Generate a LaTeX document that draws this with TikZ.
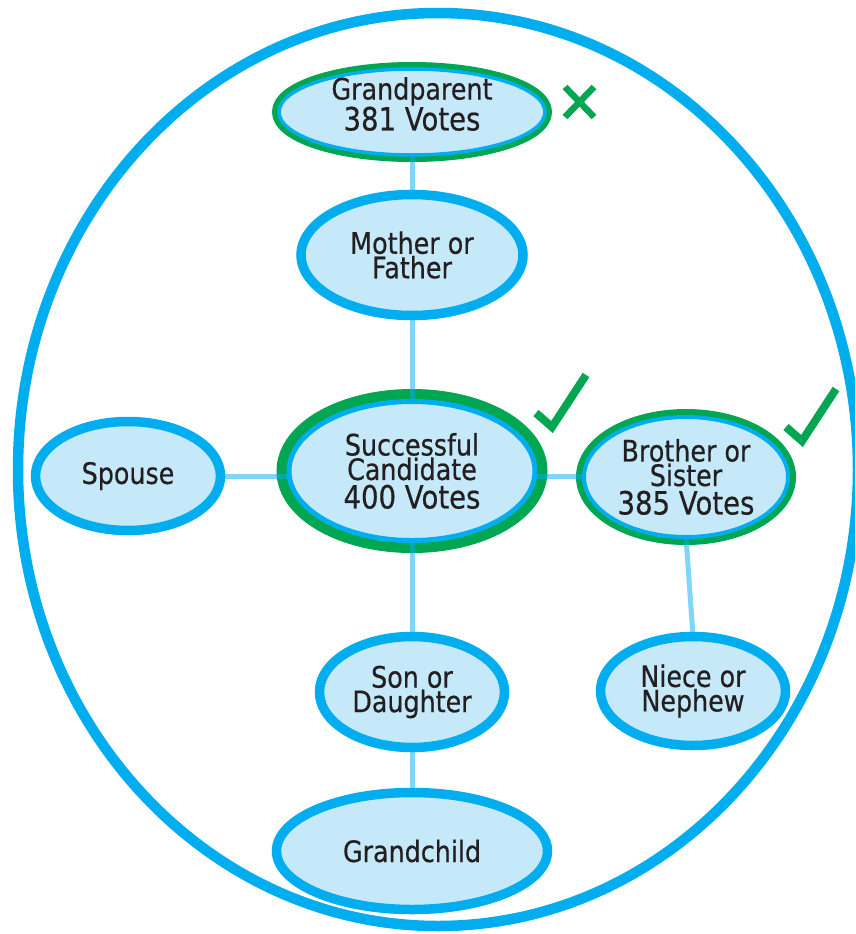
\documentclass[tikz,border=0pt]{standalone}
\usepackage{fontspec}
\setmainfont{DejaVu Sans}[FakeStretch=0.86, FakeBold=0.5]
\usetikzlibrary{shapes.geometric}
\definecolor{cblue}{HTML}{00AEEF}
\definecolor{lfill}{HTML}{C6E9F9}
\definecolor{cgreen}{HTML}{00A651}
\definecolor{tcol}{HTML}{231F20}
\newcommand{\votesline}[1]{{\fontsize{32}{30}\selectfont #1}}
\tikzset{
  rel/.style={ellipse, draw=cblue, line width=9.5pt, fill=lfill, inner sep=0pt, outer sep=0pt,
    align=center, text=tcol, font=\fontsize{29.5}{24.5}\selectfont},
  won/.style={rel, line width=#1},
  greenring/.style={preaction={draw=cgreen, line width=#1}},
  txt/.style={inner sep=0pt, align=center, text=tcol, font=\fontsize{29.5}{24.5}\selectfont},
  conn/.style={draw=cblue, draw opacity=0.5, line width=5pt},
  tick/.style={draw=cgreen, line width=8pt, line join=miter, line cap=butt},
  cross/.style={draw=cgreen, line width=6.5pt, line cap=butt}
}
\begin{document}
\begin{tikzpicture}[x=1pt, y=-1pt]
\useasboundingbox (0,0) rectangle (855,934);
\clip (0,0) rectangle (855,934);
\fill[white] (0,0) rectangle (855,934);
% outer boundary
\draw[cblue, line width=10.5pt] (438,469.5) ellipse [x radius=420, y radius=456.5];
% nodes
\node[won=3.5pt, greenring=14pt, minimum width=266pt, minimum height=86pt] (gp) at (412,112) {};
\node[txt] (gpt) at (412,104) {Grandparent\\[0pt]\votesline{381 Votes}};
\node[rel, minimum width=222pt, minimum height=121pt] (mf) at (412,255) {Mother or\\Father};
\node[won=5pt, greenring=25pt, minimum width=246pt, minimum height=139pt] (sc) at (412,471)
  {Successful\\Candidate\\[4pt]\votesline{400 Votes}};
\node[rel, minimum width=185pt, minimum height=109pt] (sp) at (128,476) {Spouse};
\node[won=4pt, greenring=16pt, minimum width=204pt, minimum height=120pt] (bs) at (686,477)
  {Brother or\\Sister\\[4pt]\votesline{385 Votes}};
\node[rel, minimum width=185pt, minimum height=111pt] (sd) at (412,692) {Son or\\Daughter};
\node[rel, minimum width=185pt, minimum height=109pt] (nn) at (693,691) {Niece or\\Nephew};
\node[rel, minimum width=271pt, minimum height=117pt] (gc) at (412,851) {Grandchild};
% connectors
\draw[conn] (gp.south) -- (mf.north);
\draw[conn] (mf.south) -- (sc.north);
\draw[conn] (sc.south) -- (sd.north);
\draw[conn] (sd.south) -- (gc.north);
\draw[conn] (sp.east) -- (sp.east -| sc.west);
\draw[conn] (bs.west |- sp.east) -- (sp.east -| sc.east);
\draw[conn] (bs.south) -- (nn.north);
% marks
\draw[tick] (536,413) -- (552,427) -- (586,375);
\draw[tick] (786,427) -- (802,441) -- (836,389);
\draw[cross] (565,87) -- (594,117) (594,87) -- (565,117);
\end{tikzpicture}
\end{document}
